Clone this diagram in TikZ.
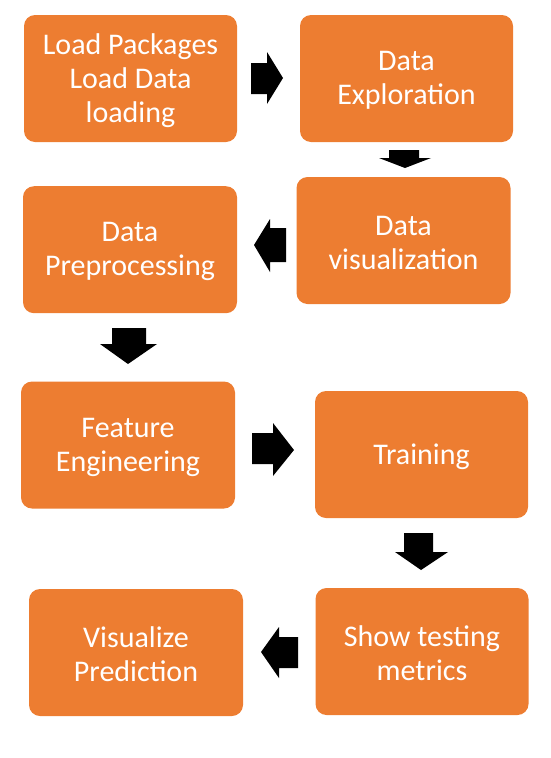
\documentclass[tikz,border=0pt]{standalone}
\usepackage{fontspec}
\setmainfont{Carlito}
\definecolor{boxorange}{HTML}{ED7D31}
\begin{document}
\begin{tikzpicture}[x=1pt,y=-1pt,
  stagebox/.style={rectangle, rounded corners=11pt, fill=boxorange, draw=none,
    inner sep=0pt},
  stagetext/.style={text=white, align=center, inner sep=0pt,
    font=\fontsize{30}{34}\selectfont},
  blockarrow/.style={fill=black, draw=none}]
\useasboundingbox (0,0) rectangle (551,758);
% boxes
\node[stagebox, minimum width=213pt, minimum height=127pt] (load) at (130.5,78.5) {};
\node[stagebox, minimum width=213pt, minimum height=127pt] (explore) at (406.5,78.5) {};
\node[stagebox, minimum width=214pt, minimum height=127pt] (vis) at (403.5,240.5) {};
\node[stagebox, minimum width=214pt, minimum height=127pt] (prep) at (130,249.7) {};
\node[stagebox, minimum width=214pt, minimum height=127pt] (feat) at (128,445) {};
\node[stagebox, minimum width=213pt, minimum height=127pt] (train) at (421.5,454.5) {};
\node[stagebox, minimum width=213pt, minimum height=127pt] (metrics) at (422,651.5) {};
\node[stagebox, minimum width=214pt, minimum height=127pt] (pred) at (136,652.5) {};
% texts
\node[stagetext] (loadtext) at ([yshift=-2pt]load.center) {Load Packages\\Load Data\\loading};
\node[stagetext] (exploretext) at ([yshift=-2pt]explore.center) {Data\\Exploration};
\node[stagetext] (vistext) at ([yshift=-2pt]vis.center) {Data\\visualization};
\node[stagetext] (preptext) at ([yshift=-2pt]prep.center) {Data\\Preprocessing};
\node[stagetext] (feattext) at ([yshift=-2pt]feat.center) {Feature\\Engineering};
\node[stagetext] (traintext) at ([yshift=-2pt]train.center) {Training};
\node[stagetext] (metricstext) at ([yshift=-2pt]metrics.center) {Show testing\\metrics};
\node[stagetext] (predtext) at ([yshift=-2pt]pred.center) {Visualize\\Prediction};
% block arrows
% load -> explore (right)
\fill[blockarrow] (251,63) -- (267,63) -- (267,52) -- (283,78) -- (267,104) -- (267,94) -- (251,94) -- cycle;
% explore -> vis (down)
\fill[blockarrow] (389,150) -- (419,150) -- (419,158) -- (431,158) -- (405,168) -- (379,158) -- (389,158) -- cycle;
% vis -> prep (left)
\fill[blockarrow] (286,228) -- (270,228) -- (270,219) -- (254,245) -- (270,272) -- (270,262) -- (286,262) -- cycle;
% prep -> feat (down)
\fill[blockarrow] (112,328) -- (146,328) -- (146,344) -- (157,344) -- (128,364) -- (100,344) -- (112,344) -- cycle;
% feat -> train (right)
\fill[blockarrow] (252,433) -- (273,433) -- (273,423) -- (294,450) -- (273,476) -- (273,464) -- (252,464) -- cycle;
% train -> metrics (down)
\fill[blockarrow] (404,533) -- (433,533) -- (433,552) -- (448,552) -- (421,570) -- (395,552) -- (404,552) -- cycle;
% metrics -> pred (left)
\fill[blockarrow] (298,637) -- (279,637) -- (279,627) -- (261,652) -- (279,678) -- (279,668) -- (298,668) -- cycle;
\end{tikzpicture}
\end{document}
